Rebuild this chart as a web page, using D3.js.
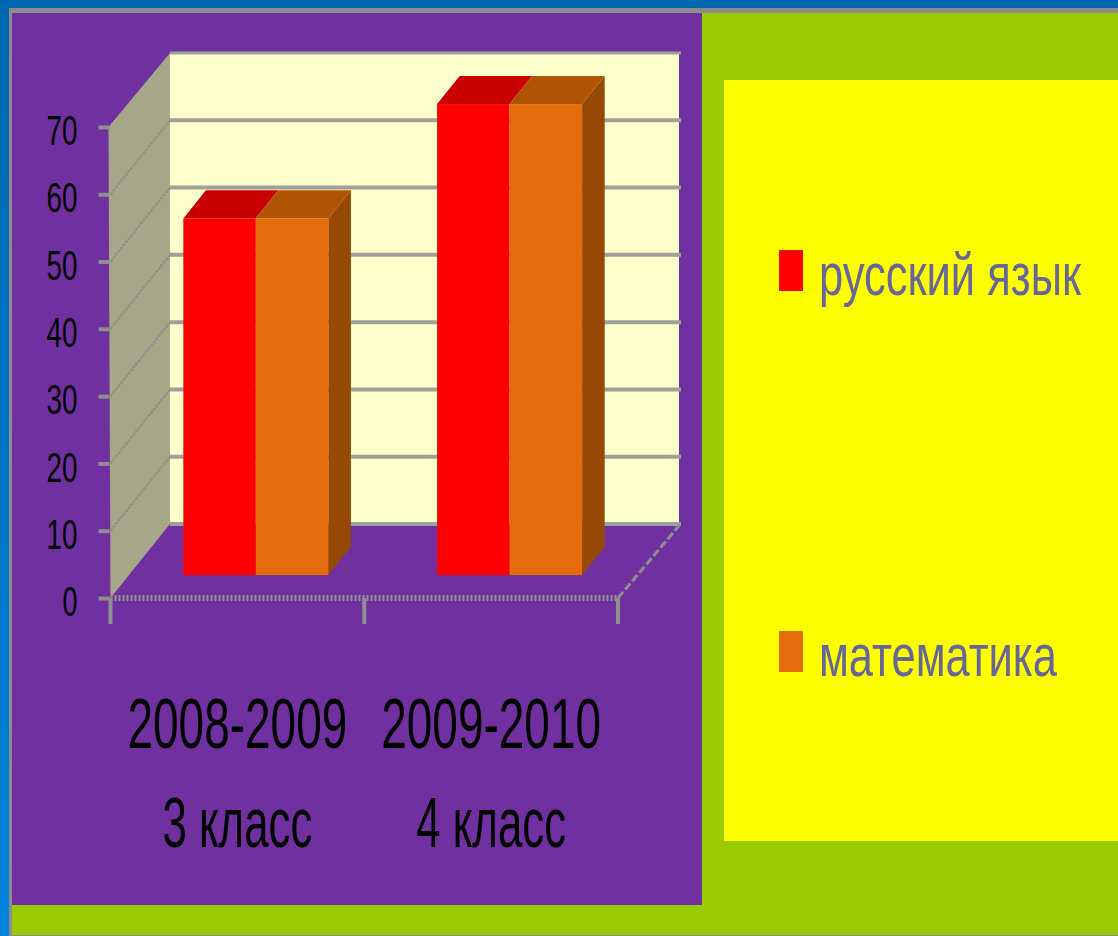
<!DOCTYPE html>
<html>
<head>
<meta charset="utf-8">
<script src="https://cdn.jsdelivr.net/npm/d3@7"></script>
<style>
  html, body { margin: 0; padding: 0; overflow: hidden; background: #99cc00; }
  svg { display: block; }
  text { font-family: "Liberation Sans Narrow", "Liberation Sans", sans-serif; }
</style>
</head>
<body>
<div id="chart"></div>
<script>
// ---------- Data ----------
const years = ["2008-2009", "2009-2010"];
const classes = ["3 класс", "4 класс"];
const seriesNames = ["русский язык", "математика"];
const russian = [53, 70];
const maths = [53, 70];
const yTicks = [0, 10, 20, 30, 40, 50, 60, 70];

// ----- Palette -----
const frontColors = ["#ff0000", "#e46c0a"];
const topColors = ["#c80000", "#b05404"];
const sideColor = "#964805";
const gridColor = "#a0a09a";
const axisColor = "#8f8f8f";

const width = 1118;
const height = 936;

const svg = d3.select("#chart").append("svg")
    .attr("width", width)
    .attr("height", height);

// ----- Slide background -----
const grad = svg.append("defs").append("linearGradient")
    .attr("id", "frameBlue")
    .attr("x1", 0).attr("y1", 0).attr("x2", 0).attr("y2", 1);
grad.append("stop").attr("offset", "0%").attr("stop-color", "#0068b0");
grad.append("stop").attr("offset", "100%").attr("stop-color", "#0084dc");

svg.append("rect").attr("width", width).attr("height", height).attr("fill", "url(#frameBlue)");
svg.append("rect").attr("x", 9).attr("y", 8).attr("width", width - 9).attr("height", height - 8).attr("fill", "#8c8c8c");
svg.append("rect").attr("x", 12).attr("y", 13).attr("width", width - 12).attr("height", height - 14).attr("fill", "#99cc00");
svg.append("rect").attr("x", 12).attr("y", 13).attr("width", 690).attr("height", 892).attr("fill", "#7030a0");
svg.append("rect").attr("x", 724).attr("y", 80).attr("width", width - 724).attr("height", 761).attr("fill", "#ffff00");

// ----- Scales -----
const y = d3.scaleLinear().domain([0, 70]).range([598, 127]);
const x0 = d3.scaleBand().domain(years).range([110.5, 618]);
const x1 = d3.scaleBand().domain(seriesNames).range([0, x0.bandwidth()]).paddingOuter(0.75);

// Oblique projection of the 3D box: depth 0 = axis plane, depth 1 = back wall
const depthX = 59.5;
const depthY = 74;
const px = (x, d) => x + d * depthX;
const py = (v, d) => y(v) - d * depthY;
const barFront = 0.31;
const barBack = 0.69;
const line = d3.line();

// ----- Walls -----
svg.append("path")
    .attr("d", line([[px(x0.range()[0], 0), py(0, 0)], [px(x0.range()[0] - 2, 0), py(70, 0)], [px(x0.range()[0], 1), py(70, 1)], [px(x0.range()[0], 1), py(0, 1)]]) + "Z")
    .attr("fill", "#a6a688");
svg.append("rect")
    .attr("x", px(x0.range()[0], 1))
    .attr("y", py(70, 1))
    .attr("width", 509)
    .attr("height", py(0, 1) - py(70, 1))
    .attr("fill", "#ffffcc");

// Gridlines on back wall and side wall
yTicks.forEach(t => {
    svg.append("line")
        .attr("x1", px(x0.range()[0], 1)).attr("x2", px(x0.range()[0], 1) + 511)
        .attr("y1", py(t, 1)).attr("y2", py(t, 1))
        .attr("stroke", gridColor)
        .attr("stroke-width", t === 70 ? 3 : 4);
    if (t > 0 && t < 70) {
        svg.append("line")
            .attr("x1", px(x0.range()[0], 0)).attr("x2", px(x0.range()[0], 1))
            .attr("y1", py(t, 0)).attr("y2", py(t, 1))
            .attr("stroke", "#8f8f88")
            .attr("stroke-width", 2)
            .attr("stroke-dasharray", "3 1");
    }
});

// Floor edge on the right
svg.append("line")
    .attr("x1", px(x0.range()[1], 0)).attr("y1", py(0, 0))
    .attr("x2", px(x0.range()[1], 1) + 3).attr("y2", py(0, 1))
    .attr("stroke", axisColor)
    .attr("stroke-width", 3)
    .attr("stroke-dasharray", "8 3");

// ----- Bars -----
[russian, maths].forEach((values, s) => {
    years.forEach((yr, i) => {
        const xa = x0(yr) + x1(seriesNames[s]);
        const xb = xa + x1.bandwidth();
        const v = values[i];

        // top face
        svg.append("path")
            .attr("d", line([[px(xa, barFront), py(v, barFront)], [px(xb, barFront), py(v, barFront)],
                             [px(xb, barBack), py(v, barBack)], [px(xa, barBack), py(v, barBack)]]) + "Z")
            .attr("fill", topColors[s]);

        // right side, only visible on the last series
        if (s === 1) {
            svg.append("path")
                .attr("d", line([[px(xb, barFront), py(v, barFront)], [px(xb, barBack), py(v, barBack)],
                                 [px(xb, barBack), py(0, barBack)], [px(xb, barFront), py(0, barFront)]]) + "Z")
                .attr("fill", sideColor);
        }

        // front face
        svg.append("rect")
            .attr("x", px(xa, barFront))
            .attr("y", py(v, barFront))
            .attr("width", x1.bandwidth())
            .attr("height", py(0, barFront) - py(v, barFront))
            .attr("fill", frontColors[s]);
    });
});

// ----- Axes -----
const yAxis = svg.append("g")
    .attr("transform", `translate(${x0.range()[0] - 1},0)`)
    .call(d3.axisLeft(y).tickValues(yTicks).tickSize(11).tickPadding(21));
yAxis.select(".domain").remove();
yAxis.selectAll(".tick line").attr("stroke", axisColor).attr("stroke-width", 4);
yAxis.selectAll(".tick text")
    .attr("fill", "#000")
    .attr("dy", "0.41em")
    .style("font-size", "43px")
    .style("font-family", '"Liberation Sans Narrow", sans-serif')
    .attr("lengthAdjust", "spacingAndGlyphs")
    .attr("textLength", d => d === 0 ? 15 : 31);

// hatched base line
svg.append("line")
    .attr("x1", x0.range()[0]).attr("x2", x0.range()[1])
    .attr("y1", y(0)).attr("y2", y(0))
    .attr("stroke", axisColor)
    .attr("stroke-width", 6)
    .attr("stroke-dasharray", "2 2");

// category ticks at the band edges
[...years.map(d => x0(d)), x0.range()[1]].forEach(t => {
    svg.append("line")
        .attr("x1", t).attr("x2", t)
        .attr("y1", y(0)).attr("y2", y(0) + 26)
        .attr("stroke", axisColor)
        .attr("stroke-width", 4);
});

// category labels, two rows
years.forEach((yr, i) => {
    const cx = x0(yr) + x0.bandwidth() / 2;
    svg.append("text")
        .attr("x", cx).attr("y", 748)
        .attr("text-anchor", "middle")
        .attr("font-size", 71)
        .attr("lengthAdjust", "spacingAndGlyphs")
        .attr("textLength", 220)
        .text(yr);
    svg.append("text")
        .attr("x", cx).attr("y", 847)
        .attr("text-anchor", "middle")
        .attr("font-size", 71)
        .attr("lengthAdjust", "spacingAndGlyphs")
        .attr("textLength", 150)
        .text(classes[i]);
});

// ----- Legend -----
const legendY = d3.scalePoint().domain(seriesNames).range([250, 631]);
const legendWidths = [262, 238];
seriesNames.forEach((name, i) => {
    svg.append("rect")
        .attr("x", 779).attr("y", legendY(name))
        .attr("width", 24).attr("height", 41)
        .attr("fill", frontColors[i]);
    svg.append("text")
        .attr("x", 819).attr("y", legendY(name) + 45)
        .attr("font-size", 60)
        .attr("fill", "#666699")
        .attr("lengthAdjust", "spacingAndGlyphs")
        .attr("textLength", legendWidths[i])
        .text(name);
});
</script>
</body>
</html>
